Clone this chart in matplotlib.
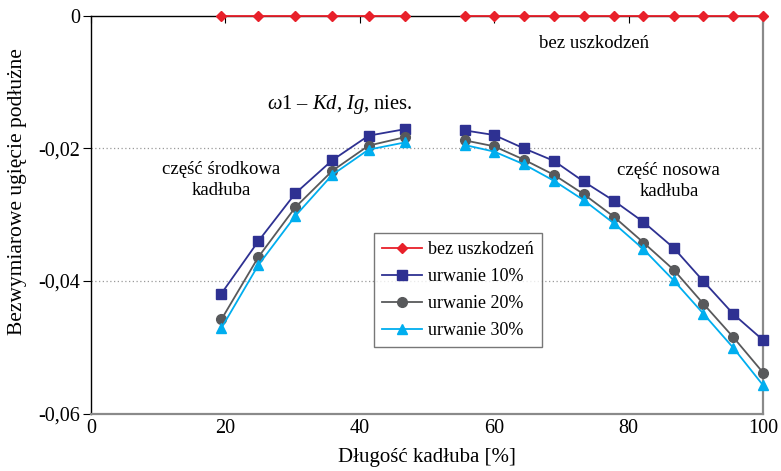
import matplotlib
matplotlib.use("Agg")
import matplotlib.pyplot as plt
import numpy as np

plt.rcParams['font.family'] = ['Liberation Serif', 'DejaVu Serif']
plt.rcParams['mathtext.fontset'] = 'custom'
plt.rcParams['mathtext.rm'] = 'Liberation Serif'
plt.rcParams['mathtext.it'] = 'Liberation Serif:italic'

# x positions (% of hull length)
x_mid = [19.4, 24.9, 30.4, 35.9, 41.3, 46.8]
x_bow = [55.6, 60.0, 64.4, 68.9, 73.3, 77.8, 82.2, 86.7, 91.1, 95.6, 100.0]

# series values
bez_mid = [0, 0, 0, 0, 0, 0]
bez_bow = [0, 0, 0, 0, 0, 0, 0, 0, 0, 0, 0]
u10_mid = [-0.0419, -0.0340, -0.0268, -0.0218, -0.0181, -0.0171]
u10_bow = [-0.0173, -0.0180, -0.0200, -0.0219, -0.0250, -0.0279, -0.0311, -0.0350, -0.0400, -0.0450, -0.0489]
u20_mid = [-0.0458, -0.0364, -0.0289, -0.0234, -0.0196, -0.0183]
u20_bow = [-0.0188, -0.0197, -0.0217, -0.0240, -0.0269, -0.0303, -0.0342, -0.0383, -0.0434, -0.0485, -0.0538]
u30_mid = [-0.0471, -0.0376, -0.0302, -0.0240, -0.0202, -0.0191]
u30_bow = [-0.0195, -0.0205, -0.0224, -0.0249, -0.0278, -0.0313, -0.0352, -0.0399, -0.0449, -0.0501, -0.0557]

labels = ['bez uszkodzeń', 'urwanie 10%', 'urwanie 20%', 'urwanie 30%']
x_ticks = [0, 20, 40, 60, 80, 100]
y_ticks = [0, -0.02, -0.04, -0.06]
y_tick_labels = ['0', '-0,02', '-0,04', '-0,06']

fig = plt.figure(figsize=(7.81, 4.71), dpi=100)
ax = fig.add_axes([91/781, 1 - 413.7/471, (763-91)/781, (413.7-15.6)/471])

ax.set_xlim(0, 100)
ax.set_ylim(-0.06, 0)

for yv in [-0.02, -0.04]:
    ax.axhline(yv, color='#9a9a9a', lw=0.9, ls=(0, (1, 2)), zorder=1)

styles = [
    dict(color='#E8202A', marker='D', ms=5, mfc='#E8202A', mec='#E8202A'),
    dict(color='#2E3192', marker='s', ms=7, mfc='#2E3192', mec='#2E3192'),
    dict(color='#58595B', marker='o', ms=7, mfc='#58595B', mec='#58595B'),
    dict(color='#00AEEF', marker='^', ms=7.5, mfc='#00AEEF', mec='#00AEEF'),
]
series = [(bez_mid, bez_bow), (u10_mid, u10_bow), (u20_mid, u20_bow), (u30_mid, u30_bow)]
handles = []
for (ym, yb), st, lab in zip(series, styles, labels):
    h, = ax.plot(x_mid, ym, lw=1.3, clip_on=False, zorder=3, label=lab, **st)
    ax.plot(x_bow, yb, lw=1.3, clip_on=False, zorder=3, **st)
    handles.append(h)

ax.set_xticks(x_ticks)
ax.set_xticklabels([str(v) for v in x_ticks])
ax.set_yticks(y_ticks)
ax.set_yticklabels(y_tick_labels)
ax.tick_params(axis='x', top=True, bottom=False, labeltop=False, labelbottom=True,
               direction='in', length=5, width=0.8, labelsize=14.5, pad=4, color='black')
ax.tick_params(axis='y', left=True, right=False, direction='out', length=6, width=0.8,
               labelsize=14.5, pad=2)

for s in ['left', 'top']:
    ax.spines[s].set_color('black')
    ax.spines[s].set_linewidth(1.0)
for s in ['right', 'bottom']:
    ax.spines[s].set_color('#8a8a8a')
    ax.spines[s].set_linewidth(1.6)

ax.set_xlabel('Długość kadłuba [%]', fontsize=15, labelpad=7)
ax.set_ylabel('Bezwymiarowe ugięcie podłużne', fontsize=15.5)
ax.yaxis.set_label_coords(-64/672, 1 - (192-15.6)/398.1)

ax.text(37.0, -0.01347, r'$\omega$1 – $Kd$, $Ig$, nies.', fontsize=14.8, ha='center', va='center')
ax.text(19.4, -0.0248, 'część środkowa\nkadłuba', fontsize=13.5, ha='center', va='center', linespacing=1.3)
ax.text(86.0, -0.0249, 'część nosowa\nkadłuba', fontsize=13.5, ha='center', va='center', linespacing=1.3)
ax.text(74.8, -0.0042, 'bez uszkodzeń', fontsize=13.5, ha='center', va='center')

leg = ax.legend(handles=handles, loc='upper left', bbox_to_anchor=((374-91)/672, 1 - (233-15.6)/398.1),
                fontsize=13, frameon=True, fancybox=False, edgecolor='#555555',
                handlelength=2.2, handletextpad=0.35, labelspacing=0.55, borderpad=0.45,
                borderaxespad=0)
leg.get_frame().set_linewidth(1.0)
leg.set_zorder(5)

fig.savefig('out.png', dpi=100)
